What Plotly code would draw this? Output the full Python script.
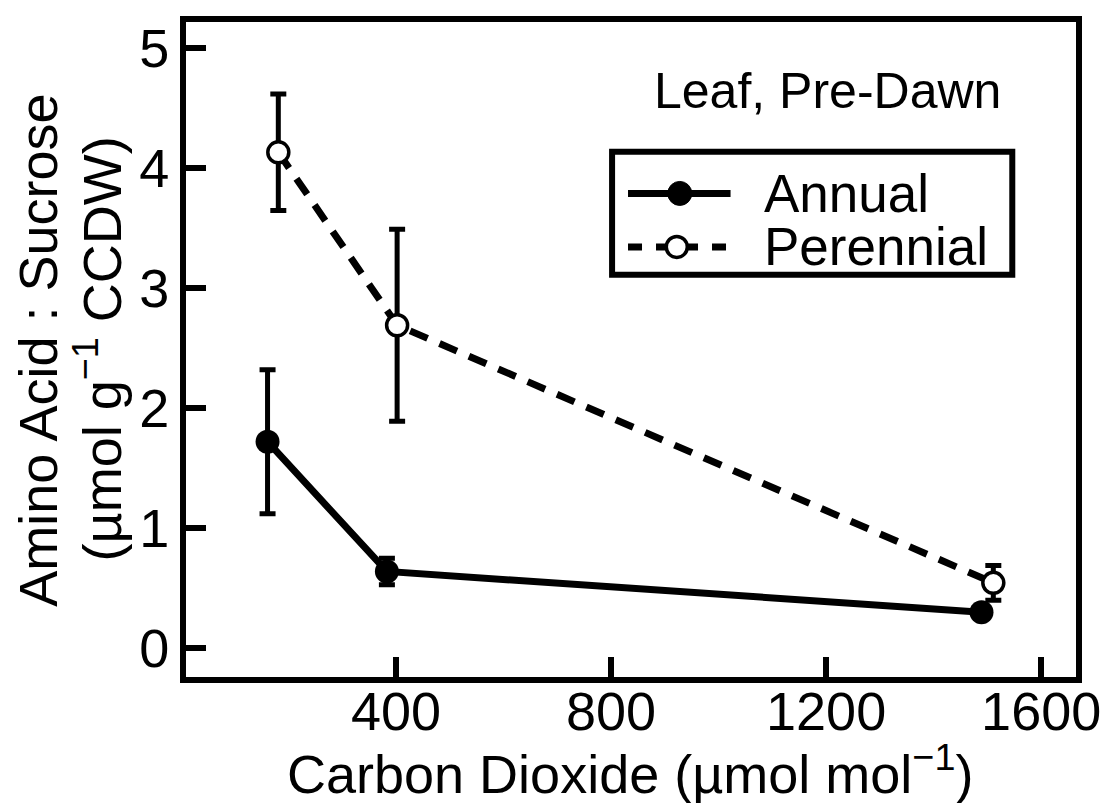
import plotly.graph_objects as go

# ---- data ----
annual_x = [161, 383, 1489]
annual_y = [1.72, 0.64, 0.30]
annual_err = [0.60, 0.11, 0.05]

perennial_x = [181, 402, 1511]
perennial_y = [4.13, 2.69, 0.545]
perennial_err = [0.485, 0.80, 0.145]

x_ticks = [400, 800, 1200, 1600]
y_ticks = [0, 1, 2, 3, 4, 5]

# page is offset by the 8px body margin
OFF = 8
PL, PR, PT, PB = 186, 1080, 16, 677          # plot area in page pixels
W, H = 1109 - OFF, 803 - OFF
ML, MT = PL - OFF, PT - OFF
MR = W - (PR - OFF)
MB = H - (PB - OFF)
PW, PH = PR - PL, PB - PT

FONT = "Liberation Sans, Arial"


def X(px):
    return (px - PL) / PW


def Y(py):
    return (PB - py) / PH


fig = go.Figure()

fig.add_trace(go.Scatter(
    x=annual_x, y=annual_y, mode="lines+markers", name="Annual",
    line=dict(color="black", width=7),
    marker=dict(symbol="circle", size=24, color="black"),
    error_y=dict(type="data", array=annual_err, color="black", thickness=5, width=8),
    showlegend=False,
))
fig.add_trace(go.Scatter(
    x=perennial_x, y=perennial_y, mode="lines+markers", name="Perennial",
    line=dict(color="black", width=7, dash="19px,13px"),
    marker=dict(symbol="circle", size=21, color="white", line=dict(color="black", width=3.5)),
    error_y=dict(type="data", array=perennial_err, color="black", thickness=5, width=8),
    showlegend=False,
))

shapes = []
# legend box
shapes.append(dict(type="rect", xref="paper", yref="paper",
                   x0=X(614), x1=X(1016), y0=Y(271), y1=Y(147),
                   line=dict(color="black", width=6), fillcolor="white", layer="above"))
# legend samples
shapes.append(dict(type="line", xref="paper", yref="paper",
                   x0=X(630), x1=X(733), y0=Y(189), y1=Y(189),
                   line=dict(color="black", width=7), layer="above"))
shapes.append(dict(type="circle", xref="paper", yref="paper",
                   xsizemode="pixel", ysizemode="pixel",
                   xanchor=X(682), yanchor=Y(189),
                   x0=-12, x1=12, y0=-12, y1=12,
                   fillcolor="black", line=dict(color="black", width=1), layer="above"))
shapes.append(dict(type="line", xref="paper", yref="paper",
                   x0=X(630), x1=X(733), y0=Y(243), y1=Y(243),
                   line=dict(color="black", width=7, dash="14px,14px"), layer="above"))
shapes.append(dict(type="circle", xref="paper", yref="paper",
                   xsizemode="pixel", ysizemode="pixel",
                   xanchor=X(679), yanchor=Y(243),
                   x0=-10.5, x1=10.5, y0=-10.5, y1=10.5,
                   fillcolor="white", line=dict(color="black", width=3.5), layer="above"))

annotations = [
    dict(text="Annual", xref="paper", yref="paper", x=X(765), y=Y(189),
         xanchor="left", yanchor="middle", showarrow=False,
         font=dict(family=FONT, size=53, color="black")),
    dict(text="Perennial", xref="paper", yref="paper", x=X(765), y=Y(243),
         xanchor="left", yanchor="middle", showarrow=False,
         font=dict(family=FONT, size=53, color="black")),
    dict(text="Leaf, Pre-Dawn", xref="paper", yref="paper", x=X(830), y=Y(86),
         xanchor="center", yanchor="middle", showarrow=False,
         font=dict(family=FONT, size=50, color="black")),
    dict(text="Amino Acid : Sucrose", xref="paper", yref="paper", x=X(37), y=Y(347),
         xanchor="center", yanchor="middle", showarrow=False, textangle=-90,
         font=dict(family=FONT, size=54, color="black")),
    dict(text="(\u00b5mol g<sup>\u22121</sup> CCDW)", xref="paper", yref="paper", x=X(98), y=Y(346),
         xanchor="center", yanchor="middle", showarrow=False, textangle=-90,
         font=dict(family=FONT, size=54, color="black")),
    dict(text="Carbon Dioxide (\u00b5mol mol<sup>\u22121</sup>)", xref="paper", yref="paper",
         x=X(632), y=Y(771), xanchor="center", yanchor="middle", showarrow=False,
         font=dict(family=FONT, size=54, color="black")),
]

axis_common = dict(
    showgrid=False, zeroline=False, showline=True, linecolor="black", linewidth=6,
    mirror=True, ticks="inside", ticklen=20, tickwidth=6, tickcolor="black",
    tickfont=dict(family=FONT, size=54, color="black"),
)

fig.update_layout(
    width=W, height=H,
    margin=dict(l=ML, r=MR, t=MT, b=MB, pad=0),
    paper_bgcolor="white", plot_bgcolor="white",
    shapes=shapes, annotations=annotations,
    showlegend=False,
    xaxis=dict(range=[9.3, 1664.8], tickvals=x_ticks, ticktext=[str(v) for v in x_ticks],
               ticklabelstandoff=-18, **axis_common),
    yaxis=dict(range=[-0.239, 5.215], tickvals=y_ticks, ticktext=[str(v) for v in y_ticks],
               **axis_common),
)

fig.write_html("out.html")
